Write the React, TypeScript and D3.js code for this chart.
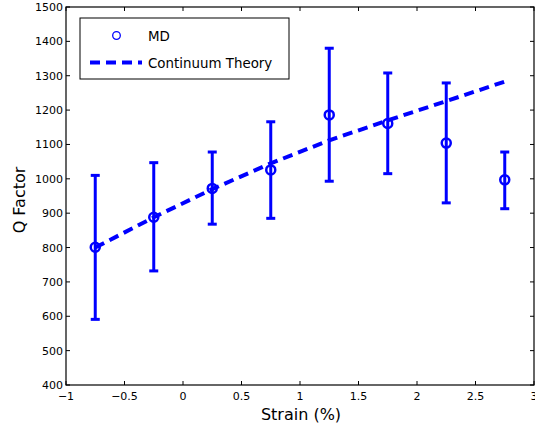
import React from "react";
import * as d3 from "d3";

const strain = [-0.75, -0.25, 0.25, 0.75, 1.25, 1.75, 2.25, 2.75];
const mdQ = [801, 888, 972, 1026, 1186, 1161, 1104, 997];
const mdLow = [591, 732, 868, 885, 993, 1015, 930, 913];
const mdHigh = [1010, 1047, 1078, 1166, 1380, 1308, 1279, 1078];
const theoryQ = [800, 888, 970, 1045, 1112, 1170, 1226, 1283];
const xTicks = [-1, -0.5, 0, 0.5, 1, 1.5, 2, 2.5, 3];
const yTicks = [400, 500, 600, 700, 800, 900, 1000, 1100, 1200, 1300, 1400, 1500];

const W = 535, H = 429;
const M = { left: 66, right: 534, top: 7, bottom: 385 };
const BLUE = "#0000ff";
const FONT = "DejaVu Sans, sans-serif";

export default function App() {
  const x = d3.scaleLinear().domain([-1, 3]).range([M.left, M.right]);
  const y = d3.scaleLinear().domain([400, 1500]).range([M.bottom, M.top]);
  const line = d3.line<number>().x((_, i) => x(strain[i])).y((d) => y(d));
  const fmt = (v: number) => (v < 0 ? "\u2212" + Math.abs(v) : String(v));
  return (
    <svg width={W} height={H} style={{ position: "absolute", left: 0, top: 0, background: "#fff" }}>
      <rect x={0} y={0} width={W} height={H} fill="#fff" />
      {/* error bars */}
      {strain.map((s, i) => (
        <g key={"e" + i} stroke={BLUE} strokeWidth={3}>
          <line x1={x(s)} x2={x(s)} y1={y(mdLow[i])} y2={y(mdHigh[i])} />
          <line x1={x(s) - 4.5} x2={x(s) + 4.5} y1={y(mdLow[i])} y2={y(mdLow[i])} />
          <line x1={x(s) - 4.5} x2={x(s) + 4.5} y1={y(mdHigh[i])} y2={y(mdHigh[i])} />
        </g>
      ))}
      <path d={line(theoryQ) || ""} fill="none" stroke={BLUE} strokeWidth={4} strokeDasharray="10,6" />
      {strain.map((s, i) => (
        <circle key={"c" + i} cx={x(s)} cy={y(mdQ[i])} r={4.5} fill="none" stroke={BLUE} strokeWidth={2.5} />
      ))}
      {/* frame */}
      <rect x={M.left} y={M.top} width={M.right - M.left} height={M.bottom - M.top} fill="none" stroke="#000" strokeWidth={1.2} />
      {/* ticks */}
      {xTicks.map((t) => (
        <g key={"xt" + t}>
          <line x1={x(t)} x2={x(t)} y1={M.bottom} y2={M.bottom - 4} stroke="#000" />
          <line x1={x(t)} x2={x(t)} y1={M.top} y2={M.top + 4} stroke="#000" />
          <text x={x(t)} y={400} textAnchor="middle" fontFamily={FONT} fontSize={11} fill="#000">{fmt(t)}</text>
        </g>
      ))}
      {yTicks.map((t) => (
        <g key={"yt" + t}>
          <line x1={M.left} x2={M.left + 4} y1={y(t)} y2={y(t)} stroke="#000" />
          <line x1={M.right} x2={M.right - 4} y1={y(t)} y2={y(t)} stroke="#000" />
          <text x={63} y={y(t) + 4} textAnchor="end" fontFamily={FONT} fontSize={11} fill="#000">{t}</text>
        </g>
      ))}
      <text x={301} y={420} textAnchor="middle" fontFamily={FONT} fontSize={16} fill="#000">Strain (%)</text>
      <text transform={`translate(25,200) rotate(-90)`} textAnchor="middle" fontFamily={FONT} fontSize={16} fill="#000">Q Factor</text>
      {/* legend */}
      <rect x={80} y={18} width={209} height={61} fill="#fff" stroke="#000" strokeWidth={1} />
      <circle cx={116.5} cy={35.5} r={3.8} fill="none" stroke={BLUE} strokeWidth={1.3} />
      <text x={148} y={40.5} fontFamily={FONT} fontSize={13.4} fill="#000">MD</text>
      <line x1={90} x2={142} y1={62.5} y2={62.5} stroke={BLUE} strokeWidth={4} strokeDasharray="10,6" />
      <text x={148} y={67.5} fontFamily={FONT} fontSize={13.4} fill="#000">Continuum Theory</text>
    </svg>
  );
}
